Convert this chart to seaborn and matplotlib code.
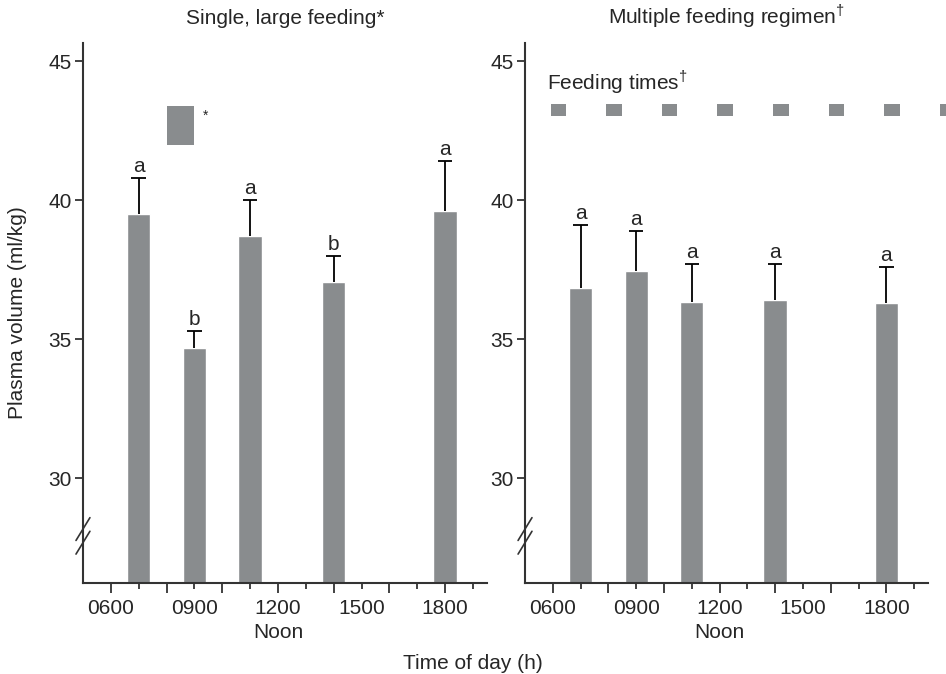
import matplotlib
matplotlib.use("Agg")
import matplotlib.pyplot as plt
from matplotlib.patches import Rectangle
import seaborn as sns
import pandas as pd

# Sampling times (hour of day) and plasma volume means / upper SEM
hours = [7, 9, 11, 14, 18]
single_mean = [39.5, 34.7, 38.7, 37.05, 39.6]
single_sem = [1.3, 0.6, 1.3, 0.95, 1.8]
single_letters = ["a", "b", "a", "b", "a"]
multi_mean = [36.85, 37.45, 36.35, 36.4, 36.3]
multi_sem = [2.25, 1.45, 1.35, 1.3, 1.3]
multi_letters = ["a", "a", "a", "a", "a"]

# Feeding events (hour of day)
single_feeding = [8]
multi_feeding = [6, 8, 10, 12, 14, 16, 18, 20]

panel_titles = ["Single, large feeding*", r"Multiple feeding regimen$^{\dagger}$"]
tick_hours_major = [6, 8, 10, 12, 14, 16, 18]
tick_hours_minor = [7, 9, 11, 13, 15, 17, 19]
labelled_hours = [6, 9, 12, 15, 18]
y_ticks = [30, 35, 40, 45]

BAR = "#898c8e"
SPINE = "#333333"
FS = 15

sns.set_theme(style="white")
plt.rcParams["font.family"] = ["Liberation Sans", "DejaVu Sans"]
plt.rcParams["mathtext.fontset"] = "custom"
plt.rcParams["mathtext.rm"] = "Liberation Sans"

fig = plt.figure(figsize=(9.46, 6.74), dpi=100)
axes = [fig.add_axes([0.0877, 0.135, 0.427, 0.801]),
        fig.add_axes([0.555, 0.135, 0.426, 0.801])]

def hour_label(h):
    return f"{h:02d}00" if h in labelled_hours else ""

panels = [(single_mean, single_sem, single_letters),
          (multi_mean, multi_sem, multi_letters)]

for ax, (means, sems, letters), title in zip(axes, panels, panel_titles):
    df = pd.DataFrame({"hour": hours, "volume": means})
    sns.barplot(data=df, x="hour", y="volume", native_scale=True,
                width=0.42, color=BAR, saturation=1, ax=ax, errorbar=None)
    tops = [m + s for m, s in zip(means, sems)]
    # upward-only error bars with a cap at the top
    ax.vlines(hours, means, tops, color="black", lw=1.3, zorder=4)
    ax.hlines(tops, [h - 0.26 for h in hours], [h + 0.26 for h in hours],
              color="black", lw=1.3, zorder=4)
    for h, top, t in zip(hours, tops, letters):
        ax.annotate(t, xy=(h, top), xytext=(0, 1.5), textcoords="offset points",
                    ha="center", va="bottom", fontsize=FS)

    ax.set_xlim(5, 19.5)
    ax.set_ylim(26.24, 45.65)
    ax.set_yticks(y_ticks, labels=[str(v) for v in y_ticks])
    ax.set_xticks(tick_hours_major, labels=[hour_label(h) for h in tick_hours_major])
    ax.set_xticks(tick_hours_minor, labels=[hour_label(h) for h in tick_hours_minor],
                  minor=True)
    ax.tick_params(axis="x", which="major", length=7, width=1.3, color=SPINE,
                   labelsize=FS, pad=4.5, direction="out", bottom=True)
    ax.tick_params(axis="x", which="minor", length=4.5, width=1.3, color=SPINE,
                   labelsize=FS, pad=7, direction="out", bottom=True)
    ax.tick_params(axis="y", length=6, width=1.3, color=SPINE, labelsize=FS,
                   pad=2, direction="out", left=True)
    for side in ["top", "right"]:
        ax.spines[side].set_visible(False)
    for side in ["left", "bottom"]:
        ax.spines[side].set_color(SPINE)
        ax.spines[side].set_linewidth(1.5)
    ax.set_xlabel("")
    ax.set_ylabel("")
    ax.set_title(title, fontsize=FS, pad=14)
    ax.grid(False)
    ax.annotate("Noon", xy=(12, 0), xycoords=("data", "axes fraction"),
                xytext=(0, -35.5), textcoords="offset points",
                ha="center", va="center", fontsize=FS)

    # axis break marks on the y spine
    for yc in (28.18, 27.69):
        ax.plot([4.75, 5.25], [yc - 0.41, yc + 0.41], color=SPINE, lw=1.2,
                clip_on=False, zorder=5)

# feeding markers
for t in single_feeding:
    axes[0].add_patch(Rectangle((t, 42.0), 1.0, 1.4, color=BAR, lw=0))
    axes[0].text(t + 1.3, 43.05, "*", fontsize=10, ha="left", va="center")
for t in multi_feeding:
    axes[1].add_patch(Rectangle((t - 0.08, 43.03), 0.56, 0.43, color=BAR, lw=0,
                                clip_on=False))
axes[1].text(5.8, 44.25, r"Feeding times$^{\dagger}$", fontsize=FS,
             ha="left", va="center")

axes[0].set_ylabel("Plasma volume (ml/kg)", fontsize=FS)
axes[0].yaxis.set_label_coords(-0.139, 0.5)
fig.text(0.5, 0.0163, "Time of day (h)", ha="center", va="center", fontsize=FS)

fig.savefig("out.png", dpi=100)
